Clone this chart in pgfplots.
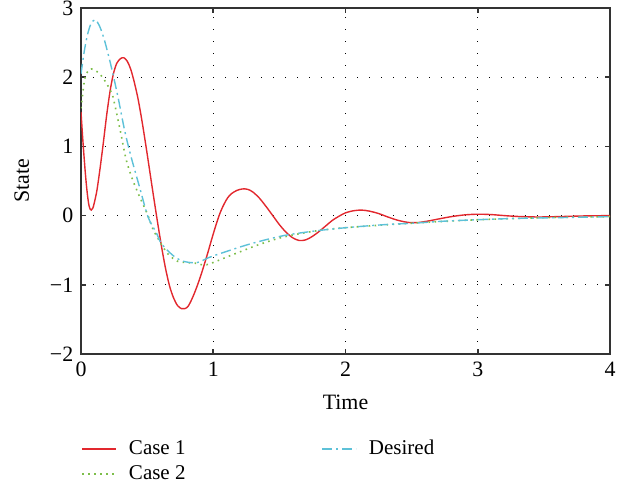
\documentclass[11pt,border=0pt]{standalone}
\usepackage{fontspec}
\setmainfont{Liberation Serif}
\usepackage{pgfplots}
\pgfplotsset{compat=1.18}
\definecolor{caseone}{HTML}{E2282E}
\definecolor{casetwo}{HTML}{7DBE4A}
\definecolor{desired}{HTML}{5DC1D8}

\begin{document}
\begin{tikzpicture}
\begin{axis}[
    name=ax,
    scale only axis,
    width=264.5pt, height=173pt,
    xmin=0, xmax=4, ymin=-2, ymax=3,
    xtick={0,1,2,3,4}, xticklabels={0,1,2,3,4},
    ytick={-2,-1,0,1,2,3}, yticklabels={−2,−1,0,1,2,3},
    xlabel={Time}, ylabel={State},
    xlabel style={yshift=-2pt},
    ylabel style={yshift=3pt},
    grid=major,
    major grid style={black, line width=0.6pt, dash pattern=on 0.6pt off 5.4pt},
    axis line style={black!80, line width=0.8pt},
    tick style={black!80, line width=0.8pt},
    major tick length=2.5pt,
    tick align=inside,
    legend columns=2,
    legend style={at={(0,-0.225)}, anchor=north west, draw=none, fill=none,
        inner xsep=0pt, row sep=-0.5pt, font=\fontsize{10.5}{12}\selectfont,
        /tikz/every odd column/.append style={column sep=4pt},
        /tikz/every even column/.append style={column sep=66pt}},
    legend cell align=left,
    legend image code/.code={\draw[#1] (0pt,0pt) -- (17pt,0pt);},
]
\addplot[caseone, line width=0.7pt, smooth, forget plot] coordinates {
(0,1.5) (0.01,1.2) (0.02,0.93) (0.03,0.68) (0.04,0.46) (0.05,0.28) (0.06,0.15)
(0.07,0.09) (0.078,0.08) (0.09,0.11) (0.1,0.18) (0.12,0.36) (0.144,0.68) (0.17,1.07)
(0.194,1.45) (0.22,1.8) (0.244,2.04) (0.27,2.2) (0.3,2.27) (0.325,2.28) (0.35,2.23)
(0.375,2.12) (0.4,1.95) (0.43,1.7) (0.46,1.38) (0.49,1.02) (0.52,0.64) (0.55,0.26)
(0.58,-0.11) (0.61,-0.46) (0.64,-0.77) (0.67,-1.02) (0.7,-1.19) (0.73,-1.3)
(0.76,-1.345) (0.785,-1.345) (0.81,-1.31) (0.84,-1.2) (0.87,-1.06) (0.9,-0.9)
(0.93,-0.72) (0.96,-0.53) (0.99,-0.33) (1.02,-0.14) (1.05,0.03) (1.08,0.16)
(1.11,0.26) (1.14,0.32) (1.18,0.365) (1.22,0.385) (1.26,0.38) (1.3,0.34) (1.35,0.25)
(1.4,0.13) (1.45,0.0) (1.5,-0.13) (1.55,-0.24) (1.6,-0.32) (1.65,-0.36) (1.7,-0.35)
(1.75,-0.3) (1.8,-0.23) (1.85,-0.15) (1.9,-0.07) (1.95,-0.01) (2.0,0.04) (2.06,0.07)
(2.12,0.08) (2.18,0.065) (2.25,0.03) (2.32,-0.02) (2.4,-0.07) (2.48,-0.1) (2.55,-0.1)
(2.62,-0.08) (2.7,-0.05) (2.8,-0.015) (2.9,0.01) (3.0,0.02) (3.1,0.015) (3.2,0.0)
(3.3,-0.012) (3.45,-0.02) (3.6,-0.015) (3.8,-0.005) (4.0,0.0)
};
\addplot[casetwo, line width=0.8pt, dash pattern=on 0.8pt off 2.2pt, smooth, forget plot] coordinates {
(0,1.55) (0.026,1.95) (0.05,2.08) (0.076,2.12) (0.13,2.07) (0.18,1.95) (0.23,1.78)
(0.25,1.65) (0.3,1.2) (0.34,0.82) (0.39,0.52) (0.446,0.26) (0.507,0.0) (0.545,-0.2)
(0.61,-0.42) (0.66,-0.56) (0.73,-0.66) (0.8,-0.68) (0.875,-0.69) (0.95,-0.71)
(1.127,-0.58) (1.33,-0.43) (1.53,-0.31) (1.78,-0.22) (2.03,-0.17) (2.5,-0.11)
(3.0,-0.06) (3.5,-0.03) (4.0,-0.015)
};
\addplot[desired, line width=0.7pt, dash pattern=on 5pt off 2pt on 1pt off 2pt, smooth, forget plot] coordinates {
(0,2.05) (0.026,2.39) (0.05,2.62) (0.075,2.77) (0.107,2.83) (0.14,2.74) (0.178,2.53)
(0.229,2.15) (0.28,1.71) (0.33,1.23) (0.38,0.84) (0.443,0.41) (0.507,-0.02) (0.57,-0.25)
(0.61,-0.41) (0.698,-0.58) (0.774,-0.66) (0.875,-0.68) (0.962,-0.61) (1.05,-0.55)
(1.278,-0.41) (1.53,-0.29) (1.78,-0.22) (2.03,-0.17) (2.3,-0.13) (2.51,-0.11)
(2.75,-0.08) (2.99,-0.06) (3.3,-0.04) (3.6,-0.03) (4.0,-0.015)
};
\addlegendimage{caseone, line width=0.7pt}
\addlegendentry{Case 1}
\addlegendimage{desired, line width=0.7pt, dash pattern=on 5pt off 2pt on 1pt off 2pt}
\addlegendentry{Desired}
\addlegendimage{casetwo, line width=0.8pt, dash pattern=on 0.8pt off 2.2pt}
\addlegendentry{Case 2}
\end{axis}
\pgfresetboundingbox
\path[use as bounding box] ([xshift=-40.5pt,yshift=-68.5pt]ax.south west) rectangle ([xshift=10pt,yshift=4pt]ax.north east);
\end{tikzpicture}
\end{document}
